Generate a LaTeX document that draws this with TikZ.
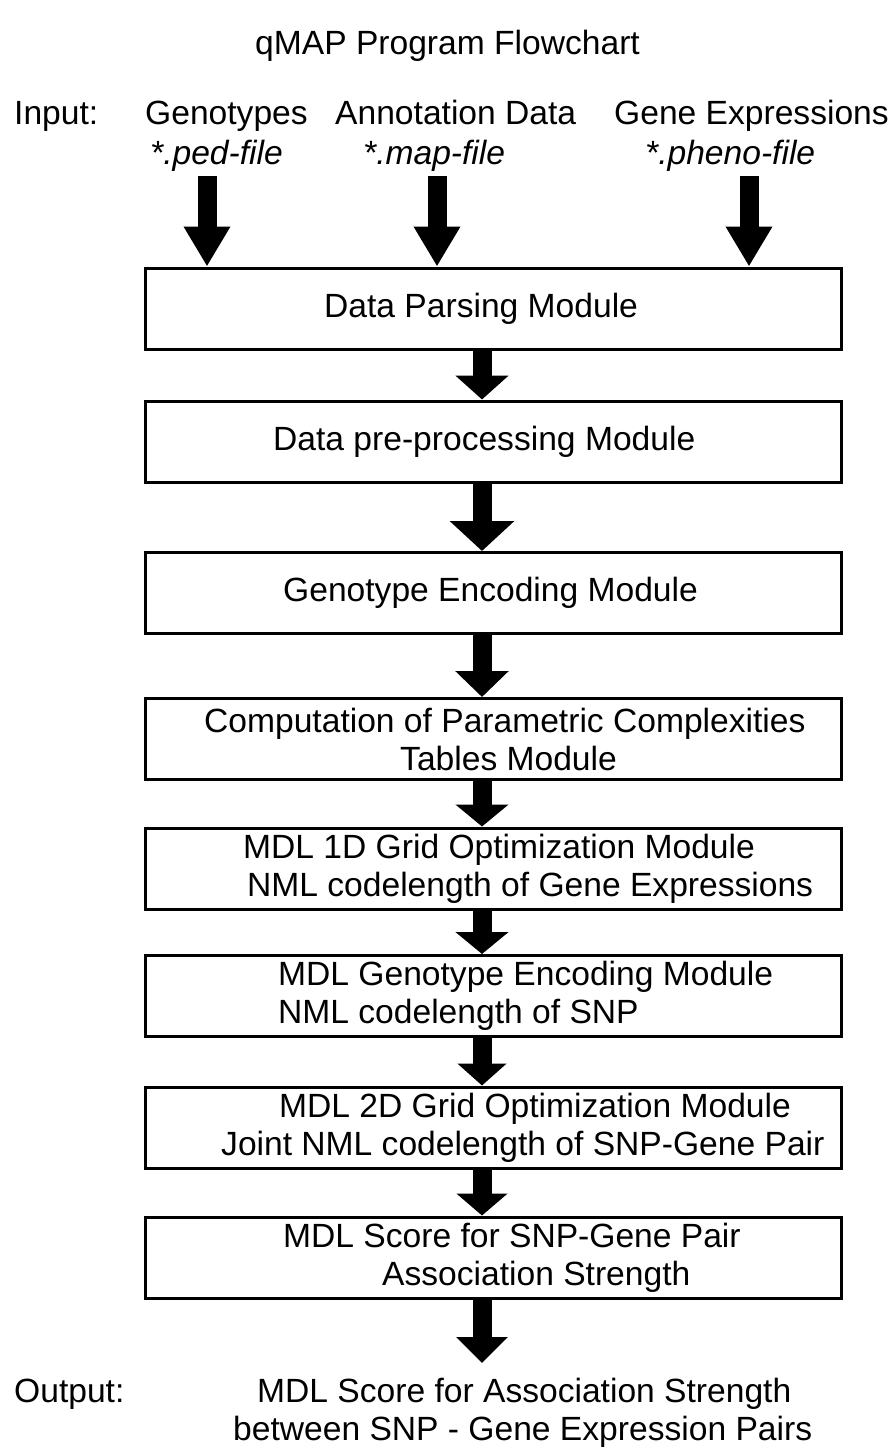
\documentclass[tikz,border=0pt]{standalone}
\usepackage{fontspec}
\setmainfont{Liberation Sans}
\usetikzlibrary{arrows.meta,positioning,calc}

\begin{document}
\begin{tikzpicture}[x=1pt,y=-1pt,
  module/.style={draw, line width=3pt, minimum width=696pt, minimum height=81pt, inner sep=0pt},
  lbl/.style={font=\fontsize{33.6}{38}\selectfont, inner sep=0pt, align=left, anchor=west},
  row/.style={font=\fontsize{33.6}{38}\selectfont, inner sep=0pt, anchor=base west},
  file/.style={row, font=\fontsize{33.6}{38}\selectfont\itshape},
  blockarrow/.style 2 args={line width=19pt, -{Triangle[length=#1pt, width=#2pt]}},
]
\useasboundingbox (0,0) rectangle (893,1448);
% Title and inputs
\node[row] (title) at (255,54) {qMAP Program Flowchart};
\node[row] (input) at (14,124) {Input:};
\node[row] (geno) at (145,124) {Genotypes};
\node[row] (annot) at (335,124) {Annotation Data};
\node[row] (expr) at (614,124) {Gene Expressions};
\node[file] (ped) at (150,164) {*.ped-file};
\node[file] (map) at (363,164) {*.map-file};
\node[file] (pheno) at (645,164) {*.pheno-file};
% Module boxes
\node[module] (parse) at (493,308.5) {};
\node[module] (prep) at (493,441.5) {};
\node[module] (enc) at (493,593) {};
\node[module] (comp) at (493,739) {};
\node[module] (grid1) at (493,868.5) {};
\node[module] (mdlenc) at (493,996) {};
\node[module] (grid2) at (493,1127.5) {};
\node[module] (score) at (493,1257.5) {};
% Box texts
\node[lbl] (tparse) at (324,308.5) {Data Parsing Module};
\node[lbl] (tprep) at (273,441.5) {Data pre-processing Module};
\node[lbl] (tenc) at (283,593) {Genotype Encoding Module};
\node[lbl] (tcomp) at (204,739) {Computation of Parametric Complexities\\\hspace*{196pt}Tables Module};
\node[lbl] (tgrid1) at (243,868.5) {MDL 1D Grid Optimization Module\\\hspace*{4pt}NML codelength of Gene Expressions};
\node[lbl] (tmdlenc) at (278,996) {MDL Genotype Encoding Module\\NML codelength of SNP};
\node[lbl] (tgrid2) at (221,1127.5) {\hspace*{58pt}MDL 2D Grid Optimization Module\\Joint NML codelength of SNP-Gene Pair};
\node[lbl] (tscore) at (283,1257.5) {MDL Score for SNP-Gene Pair\\\hspace*{99pt}Association Strength};
% Output
\node[row] (output) at (14,1402) {Output:};
\node[row] (res1) at (257,1402) {MDL Score for Association Strength};
\node[row] (res2) at (233,1440) {between SNP - Gene Expression Pairs};
\coordinate (spine) at (482,0);
\coordinate (outtip) at (482,1363);
% Input arrows
\foreach \x in {207,437,749}
  \draw[blockarrow={40}{44}] (\x,176) -- (parse.north -| \x,0);
% Flow arrows
\draw[blockarrow={24}{52}] (parse.south -| spine) -- (prep.north -| spine);
\draw[blockarrow={30}{63}] (prep.south -| spine) -- (enc.north -| spine);
\draw[blockarrow={26}{52}] (enc.south -| spine) -- (comp.north -| spine);
\draw[blockarrow={22}{52}] (comp.south -| spine) -- (grid1.north -| spine);
\draw[blockarrow={22}{52}] (grid1.south -| spine) -- (mdlenc.north -| spine);
\draw[blockarrow={22}{48}] (mdlenc.south -| spine) -- (grid2.north -| spine);
\draw[blockarrow={22}{50}] (grid2.south -| spine) -- (score.north -| spine);
\draw[blockarrow={26}{50}] (score.south -| spine) -- (outtip);
\end{tikzpicture}
\end{document}
